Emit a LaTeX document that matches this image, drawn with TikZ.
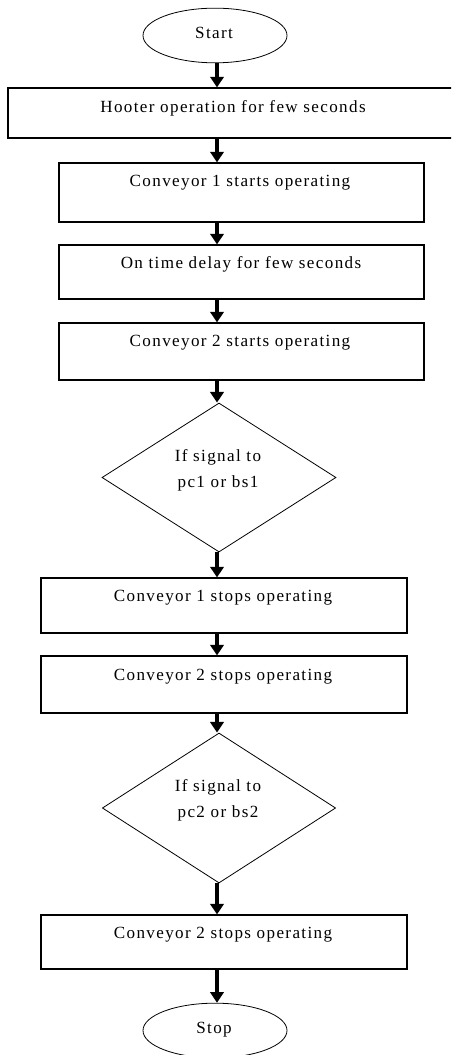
\documentclass[tikz,border=0pt]{standalone}
\usepackage{fontspec}
\setmainfont{Liberation Serif}
\newfontfamily\flowfont[LetterSpace=8]{Liberation Serif}
\usetikzlibrary{shapes.geometric,arrows.meta,calc}
\begin{document}
\begin{tikzpicture}[x=0.75pt,y=-0.75pt,
  box/.style={draw,line width=0.8pt,rectangle,inner sep=0pt},
  term/.style={draw,line width=0.6pt,ellipse,inner sep=0pt,minimum width=108pt,minimum height=41pt},
  decide/.style={draw,line width=0.6pt,diamond,inner sep=0pt},
  txt/.style={font=\flowfont\fontsize{12.8}{19.5}\selectfont,inner sep=0pt,align=center},
  arr/.style={line width=2.4pt,-{Triangle[length=8pt,width=10pt]}}]
\clip (0,0) rectangle (451,1055);
\fill[white] (0,0) rectangle (451,1055);
% nodes
\node[term] (start) at (215,35.5) {};
\node[txt] (tstart) at (214,33) {Start};
\node[box,minimum width=337.5pt,minimum height=37.5pt] (hoot) at (233,113) {};
\node[txt] (thoot) at (233,108) {Hooter operation for few seconds};
\node[box,minimum width=273.75pt,minimum height=44.25pt] (c1) at (241.5,192.5) {};
\node[txt] (tc1) at (240,183) {Conveyor 1 starts operating};
\node[box,minimum width=273.75pt,minimum height=40.5pt] (dl) at (241.5,272) {};
\node[txt] (tdl) at (241,264) {On time delay for few seconds};
\node[box,minimum width=273.75pt,minimum height=42.75pt] (c2) at (241.5,351.5) {};
\node[txt] (tc2) at (240,343) {Conveyor 2 starts operating};
\node[decide,minimum width=175.5pt,minimum height=111.75pt] (d1) at (219,477.5) {};
\node[txt] (td1) at (218,470) {If signal to\\pc1 or bs1};
\node[box,minimum width=274.5pt,minimum height=41.25pt] (s1) at (224,605.5) {};
\node[txt] (ts1) at (223,598) {Conveyor 1 stops operating};
\node[box,minimum width=274.5pt,minimum height=42.75pt] (s2) at (224,684.5) {};
\node[txt] (ts2) at (223,677) {Conveyor 2 stops operating};
\node[decide,minimum width=175pt,minimum height=112.5pt] (d2) at (219,808) {};
\node[txt] (td2) at (218,800) {If signal to\\pc2 or bs2};
\node[box,minimum width=274.5pt,minimum height=40.5pt] (s3) at (224,942) {};
\node[txt] (ts3) at (223,935) {Conveyor 2 stops operating};
\node[term] (stop) at (215,1030.5) {};
\node[txt] (tstop) at (214,1030) {Stop};
% arrows
\coordinate (ax) at (217,0);
\draw[arr] (start.south -| ax) -- (hoot.north -| ax);
\draw[arr] (hoot.south -| ax) -- (c1.north -| ax);
\draw[arr] (c1.south -| ax) -- (dl.north -| ax);
\draw[arr] (dl.south -| ax) -- (c2.north -| ax);
\draw[arr] (c2.south -| ax) -- (d1.north -| ax);
\draw[arr] (d1.south -| ax) -- (s1.north -| ax);
\draw[arr] (s1.south -| ax) -- (s2.north -| ax);
\draw[arr] (s2.south -| ax) -- (d2.north -| ax);
\draw[arr] (d2.south -| ax) -- (s3.north -| ax);
\draw[arr] (s3.south -| ax) -- (stop.north -| ax);
\end{tikzpicture}
\end{document}
